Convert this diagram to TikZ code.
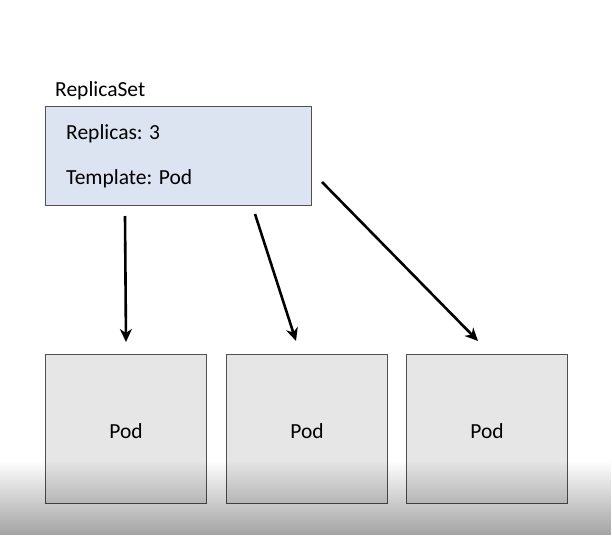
\documentclass[tikz,border=0pt]{standalone}
\usepackage{fontspec}
\setmainfont{Carlito}
\usetikzlibrary{arrows.meta,fadings}
\definecolor{rsfill}{HTML}{DCE3F1}
\definecolor{podfill}{HTML}{E6E6E6}
\definecolor{edge}{HTML}{505050}
\begin{document}
\begin{tikzpicture}[x=1pt,y=-1pt,
  rsbox/.style={draw=edge, line width=1.2pt, fill=rsfill},
  podbox/.style={draw=edge, line width=1.2pt, fill=podfill, minimum width=161pt, minimum height=149pt, inner sep=0pt},
  podtext/.style={inner sep=0pt, font=\fontsize{21.5}{25}\selectfont},
  lbl/.style={anchor=west, inner sep=0pt, font=\fontsize{21.5}{25}\selectfont},
  conn/.style={line width=2.6pt, -{Stealth[length=13pt,width=12pt,inset=4pt]}}]
\useasboundingbox (0,0) rectangle (612,535);
\fill[white] (0,0) rectangle (612,535);
% ReplicaSet box
\node[rsbox, minimum width=266pt, minimum height=99pt, inner sep=0pt, anchor=north west] (rs) at (45,106) {};
\node[lbl] (rslabel) at (55,91) {ReplicaSet};
\node[lbl] (repl) at (66,134) {Replicas: 3};
\node[lbl] (tmpl) at (66,179) {Template: Pod};
% Pods
\node[podbox, anchor=north west] (p1) at (45,354) {};
\node[podbox, anchor=north west] (p2) at (226,354) {};
\node[podbox, anchor=north west] (p3) at (406,354) {};
\node[podtext] (t1) at ([yshift=-2pt]p1.center) {Pod};
\node[podtext] (t2) at ([yshift=-2pt]p2.center) {Pod};
\node[podtext] (t3) at ([yshift=-2pt]p3.center) {Pod};
% connector end points
\coordinate (s1) at (125,216);
\coordinate (s2) at (255,214);
\coordinate (s3) at (322,182);
\coordinate (e1) at (126,342);
\coordinate (e2) at (296,341);
\coordinate (e3) at (478,341);
\draw[conn] (s1) -- (e1);
\draw[conn] (s2) -- (e2);
\draw[conn] (s3) -- (e3);
% bottom video shade
\fill[black, path fading=north, opacity=0.36] (0,460) rectangle (612,535);
\end{tikzpicture}
\end{document}
